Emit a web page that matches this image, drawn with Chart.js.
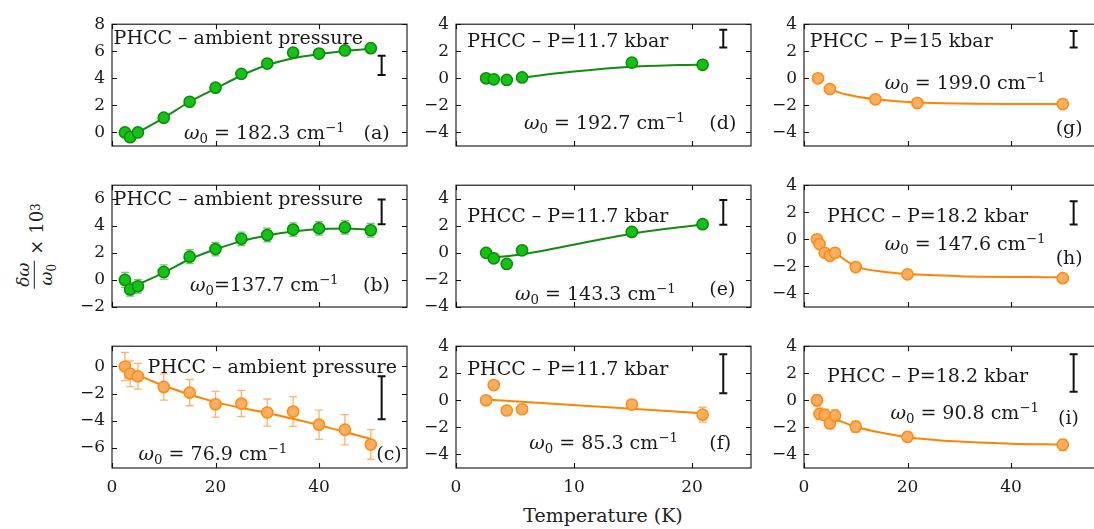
<!DOCTYPE html>
<html>
<head>
<meta charset="utf-8">
<script src="https://cdn.jsdelivr.net/npm/chart.js@4/dist/chart.umd.min.js"></script>
<style>
  body{margin:0;width:1094px;height:529px;overflow:hidden;background:#fff;position:relative;font-family:'DejaVu Serif',serif;color:#222;}
  canvas{position:absolute;}
  #ylab{position:absolute;left:36px;top:246px;transform:translate(-50%,-50%) rotate(-90deg);display:flex;align-items:center;font-size:18px;white-space:nowrap;}
  .frac{display:inline-flex;flex-direction:column;align-items:center;margin-right:6px;font-size:17px;}
  .frac .num{border-bottom:1px solid #222;padding:0 2px 1px;}
  .frac .den{padding-top:1px;}
  sub,sup{font-size:12px;}
  #xlab{position:absolute;left:603px;top:515px;transform:translate(-50%,-50%);font-size:19px;white-space:nowrap;}
</style>
</head>
<body>
<div id="ylab"><span class="frac"><span class="num"><i>δω</i></span><span class="den"><i>ω</i><sub>0</sub></span></span>× 10<sup>3</sup></div>
<div id="xlab">Temperature (K)</div>
<script>
// temperatures (K)
const tempAmb = [2.5,3.5,5,10,15,20,25,30,35,40,45,50];
const tempP117 = [2.55,3.2,4.3,5.6,14.9,20.9];
const tempP15 = [2.7,5,13.8,21.9,50];
const tempP182 = [2.5,3,4,5,6,10,20,50];

// relative shifts x 10^3
const shiftA = [0,-0.35,0,1.09,2.27,3.31,4.33,5.09,5.9,5.83,6.06,6.23];
const shiftB = [0,-0.7,-0.47,0.59,1.72,2.28,3.04,3.32,3.72,3.81,3.88,3.67];
const errB = [0.55,0.5,0.5,0.53,0.52,0.5,0.5,0.5,0.5,0.5,0.5,0.5];
const shiftC = [0,-0.53,-0.72,-1.51,-1.93,-2.79,-2.74,-3.4,-3.33,-4.3,-4.67,-5.77];
const errC = [1.05,0.95,0.95,0.97,0.97,0.95,0.97,1.0,1.1,1.08,1.12,1.1];
const shiftD = [0,-0.07,-0.12,0.07,1.16,1.0];
const shiftE = [0,-0.4,-0.82,0.19,1.55,2.12];
const shiftF = [0,1.13,-0.75,-0.66,-0.31,-1.06];
const errF = [0,0,0,0,0.3,0.55];
const shiftG = [0,-0.79,-1.55,-1.83,-1.9];
const shiftH = [0,-0.35,-0.99,-1.22,-0.99,-2.05,-2.59,-2.87];
const shiftI = [0,-1.0,-1.08,-1.69,-1.13,-1.95,-2.7,-3.29];
const errI = [0.42,0.42,0.42,0.42,0.42,0.42,0.35,0.42];

// fitted curves
const fitTA = [5,10,15,20,25,30,35,40,45,50];
const fitA = [0,1.08,2.27,3.24,4.21,4.98,5.49,5.79,6.02,6.18];
const fitTB = [5,10,15,20,25,30,35,40,45,50];
const fitB = [-0.35,0.54,1.53,2.26,2.87,3.29,3.58,3.76,3.8,3.72];
const fitTC = [2.5,5,10,20,30,40,50];
const fitC = [-0.05,-0.6,-1.42,-2.63,-3.44,-4.33,-5.35];
const fitTD = [5.6,10,14.9,20.9];
const fitD = [0.07,0.5,0.85,1.03];
const fitTE = [3.2,5.6,14.9,20.9];
const fitE = [-0.35,-0.1,1.42,2.1];
const fitTF = [2.55,20.9];
const fitF = [0.07,-0.95];
const fitTG = [5,8,13.8,21.9,30,50];
const fitG = [-0.82,-1.18,-1.55,-1.78,-1.86,-1.9];
const fitTH = [6,10,15,20,30,50];
const fitH = [-1.0,-2.0,-2.38,-2.57,-2.72,-2.8];
const fitTI = [6,10,15,20,30,40,50];
const fitI = [-1.4,-1.95,-2.4,-2.72,-3.05,-3.2,-3.27];

// black resolution bars: [T, low, high]
const barA = [52.1,4.25,5.67];
const barB = [52.1,4.12,5.95];
const barC = [52.1,-3.9,-0.72];
const barD = [22.65,2.27,3.59];
const barE = [22.65,2.07,3.9];
const barF = [22.65,0.52,3.41];
const barG = [52.1,2.27,3.5];
const barH = [52.1,1.1,2.82];
const barI = [52.1,0.64,3.41];

// tick labels
const xTicksWide = [0,20,40];
const xTicksNarrow = [0,10,20];
const yTicksA = [0,2,4,6,8];
const yTicksB = [-2,0,2,4,6];
const yTicksC = [-6,-4,-2,0];
const yTicksStd = [-4,-2,0,2,4];

const titleAmb = 'PHCC – ambient pressure';
const titleP117 = 'PHCC – P=11.7 kbar';
const titleP15 = 'PHCC – P=15 kbar';
const titleP182 = 'PHCC – P=18.2 kbar';

const GREEN = {fill:'#12c312', edge:'#0b8a0b', line:'#148c14', err:'#72c872'};
const ORANGE = {fill:'#ffad5e', edge:'#ff8a12', line:'#ff8400', err:'#ffb26a'};

const colLeft = [112,456,804];
const rowTop = [17,178,339];
const plotW = 295, plotH = 129;
const FONT = '"DejaVu Serif"';

const panels = [
  {col:0,row:0,T:tempAmb,y:shiftA,fitT:fitTA,fit:fitA,bar:barA,c:GREEN,x:[0,57],yr:[-1,8],xt:xTicksWide,yt:yTicksA,
   title:titleAmb,tp:[1.6,20],om:' = 182.3 cm',op:[72,115],lab:'(a)',lp:[251.6,115]},
  {col:0,row:1,T:tempAmb,y:shiftB,err:errB,fitT:fitTB,fit:fitB,bar:barB,c:GREEN,x:[0,57],yr:[-2,7],xt:xTicksWide,yt:yTicksB,
   title:titleAmb,tp:[1.6,20],om:'=137.7 cm',op:[78,106],lab:'(b)',lp:[251,106]},
  {col:0,row:2,T:tempAmb,y:shiftC,err:errC,fitT:fitTC,fit:fitC,bar:barC,c:ORANGE,x:[0,57],yr:[-7.5,1.5],xt:xTicksWide,yt:yTicksC,
   title:titleAmb,tp:[35.6,26.7],om:' = 76.9 cm',op:[26.6,113.4],lab:'(c)',lp:[264.3,113.4]},
  {col:1,row:0,T:tempP117,y:shiftD,fitT:fitTD,fit:fitD,bar:barD,c:GREEN,x:[0,25],yr:[-5,4],xt:xTicksNarrow,yt:yTicksStd,
   title:titleP117,tp:[11.3,22.6],om:' = 192.7 cm',op:[68,105],lab:'(d)',lp:[253.3,105]},
  {col:1,row:1,T:tempP117,y:shiftE,fitT:fitTE,fit:fitE,bar:barE,c:GREEN,x:[0,25],yr:[-4,5],xt:xTicksNarrow,yt:yTicksStd,
   title:titleP117,tp:[11.3,36.7],om:' = 143.3 cm',op:[59,115],lab:'(e)',lp:[253.3,109.4]},
  {col:1,row:2,T:tempP117,y:shiftF,err:errF,fitT:fitTF,fit:fitF,bar:barF,c:ORANGE,x:[0,25],yr:[-5,4],xt:xTicksNarrow,yt:yTicksStd,
   title:titleP117,tp:[11.3,29],om:' = 85.3 cm',op:[73.3,102.4],lab:'(f)',lp:[253.3,102.4]},
  {col:2,row:0,T:tempP15,y:shiftG,fitT:fitTG,fit:fitG,bar:barG,c:ORANGE,x:[0,57],yr:[-5,4],xt:xTicksWide,yt:yTicksStd,
   title:titleP15,tp:[5.7,22.6],om:' = 199.0 cm',op:[80.7,65],lab:'(g)',lp:[251.7,110]},
  {col:2,row:1,T:tempP182,y:shiftH,fitT:fitTH,fit:fitH,bar:barH,c:ORANGE,x:[0,57],yr:[-5,4],xt:xTicksWide,yt:yTicksStd,
   title:titleP182,tp:[23,36.7],om:' = 147.6 cm',op:[80.7,65],lab:'(h)',lp:[251.7,78.4]},
  {col:2,row:2,T:tempP182,y:shiftI,err:errI,fitT:fitTI,fit:fitI,bar:barI,c:ORANGE,x:[0,57],yr:[-5,4],xt:xTicksWide,yt:yTicksStd,
   title:titleP182,tp:[23,35.7],om:' = 90.8 cm',op:[86.4,72.4],lab:'(i)',lp:[254,77.4]}
];

function drawRich(ctx, x, y, segs, size){
  segs.forEach(s=>{
    const fs = size*(s.k||1);
    ctx.font = (s.it?'italic ':'') + fs + 'px ' + FONT;
    ctx.fillText(s.t, x, y+(s.dy||0));
    x += ctx.measureText(s.t).width;
  });
}

function panelPlugin(p){
  return {
    id:'panel',
    beforeDatasetsDraw(chart){
      if(!p.err) return;
      const ctx=chart.ctx, xs=chart.scales.x, ys=chart.scales.y;
      ctx.save();
      ctx.strokeStyle=p.c.err; ctx.lineWidth=1.3;
      p.T.forEach((t,i)=>{
        const e=p.err[i]; if(!e) return;
        const x=xs.getPixelForValue(t);
        const y1=ys.getPixelForValue(p.y[i]-e), y2=ys.getPixelForValue(p.y[i]+e);
        ctx.beginPath();
        ctx.moveTo(x,y1); ctx.lineTo(x,y2);
        ctx.moveTo(x-4,y1); ctx.lineTo(x+4,y1);
        ctx.moveTo(x-4,y2); ctx.lineTo(x+4,y2);
        ctx.stroke();
      });
      ctx.restore();
    },
    afterDraw(chart){
      const ctx=chart.ctx, a=chart.chartArea, xs=chart.scales.x, ys=chart.scales.y;
      ctx.save();
      // frame and inward ticks
      ctx.strokeStyle='#111'; ctx.lineWidth=1.1;
      ctx.strokeRect(a.left, a.top, a.right-a.left, a.bottom-a.top);
      ctx.beginPath();
      p.xt.forEach(v=>{
        const x=Math.round(xs.getPixelForValue(v))+0.5;
        ctx.moveTo(x,a.bottom); ctx.lineTo(x,a.bottom-5);
        ctx.moveTo(x,a.top); ctx.lineTo(x,a.top+5);
      });
      p.yt.forEach(v=>{
        const y=Math.round(ys.getPixelForValue(v))+0.5;
        ctx.moveTo(a.left,y); ctx.lineTo(a.left+5,y);
        ctx.moveTo(a.right,y); ctx.lineTo(a.right-5,y);
      });
      ctx.stroke();
      // resolution bar
      const bx=xs.getPixelForValue(p.bar[0]);
      const b1=ys.getPixelForValue(p.bar[1]), b2=ys.getPixelForValue(p.bar[2]);
      ctx.lineWidth=2; ctx.strokeStyle='#111';
      ctx.beginPath();
      ctx.moveTo(bx,b1); ctx.lineTo(bx,b2);
      ctx.moveTo(bx-4,b1); ctx.lineTo(bx+4,b1);
      ctx.moveTo(bx-4,b2); ctx.lineTo(bx+4,b2);
      ctx.stroke();
      // texts
      ctx.fillStyle='#1a1a1a'; ctx.textBaseline='alphabetic'; ctx.textAlign='left';
      ctx.font='19px '+FONT;
      ctx.fillText(p.title, a.left+p.tp[0], a.top+p.tp[1]);
      drawRich(ctx, a.left+p.op[0], a.top+p.op[1],
        [{t:'ω',it:1},{t:'0',k:0.7,dy:4},{t:p.om},{t:'−1',k:0.7,dy:-7}], 19);
      ctx.font='19px '+FONT;
      ctx.fillText(p.lab, a.left+p.lp[0], a.top+p.lp[1]);
      ctx.restore();
    }
  };
}

const fmt = v => String(v).replace('-', '−');

panels.forEach(p=>{
  const cv=document.createElement('canvas');
  const w=plotW+50+12, h=plotH+10+34;
  cv.width=w; cv.height=h;
  cv.style.left=(colLeft[p.col]-50)+'px';
  cv.style.top=(rowTop[p.row]-10)+'px';
  cv.style.width=w+'px'; cv.style.height=h+'px';
  document.body.appendChild(cv);
  const bottomRow = p.row===2;
  new Chart(cv,{
    type:'scatter',
    data:{datasets:[
      {data:p.T.map((t,i)=>({x:t,y:p.y[i]})), pointRadius:5.6, pointBorderWidth:1.5,
       pointBackgroundColor:p.c.fill, pointBorderColor:p.c.edge, showLine:false, order:0},
      {data:p.fitT.map((t,i)=>({x:t,y:p.fit[i]})), showLine:true, pointRadius:0, borderWidth:2,
       borderColor:p.c.line, cubicInterpolationMode:'monotone', order:1}
    ]},
    options:{
      responsive:false, maintainAspectRatio:false, animation:false, devicePixelRatio:1,
      layout:{padding:{top:10,right:12,left:0,bottom:0}},
      plugins:{legend:{display:false}, tooltip:{enabled:false}},
      scales:{
        x:{type:'linear', min:p.x[0], max:p.x[1],
           afterBuildTicks:s=>{s.ticks=p.xt.map(v=>({value:v}));},
           afterFit:s=>{s.height=34;},
           grid:{display:false,drawTicks:false}, border:{display:false},
           ticks:{display:bottomRow, padding:9, color:'#1a1a1a', font:{family:'DejaVu Serif',size:17}, maxRotation:0, callback:fmt}},
        y:{type:'linear', min:p.yr[0], max:p.yr[1],
           afterBuildTicks:s=>{s.ticks=p.yt.map(v=>({value:v}));},
           afterFit:s=>{s.width=50;},
           grid:{display:false,drawTicks:false}, border:{display:false},
           ticks:{padding:7, color:'#1a1a1a', font:{family:'DejaVu Serif',size:17}, callback:fmt}}
      }
    },
    plugins:[panelPlugin(p)]
  });
});
</script>
</body>
</html>
